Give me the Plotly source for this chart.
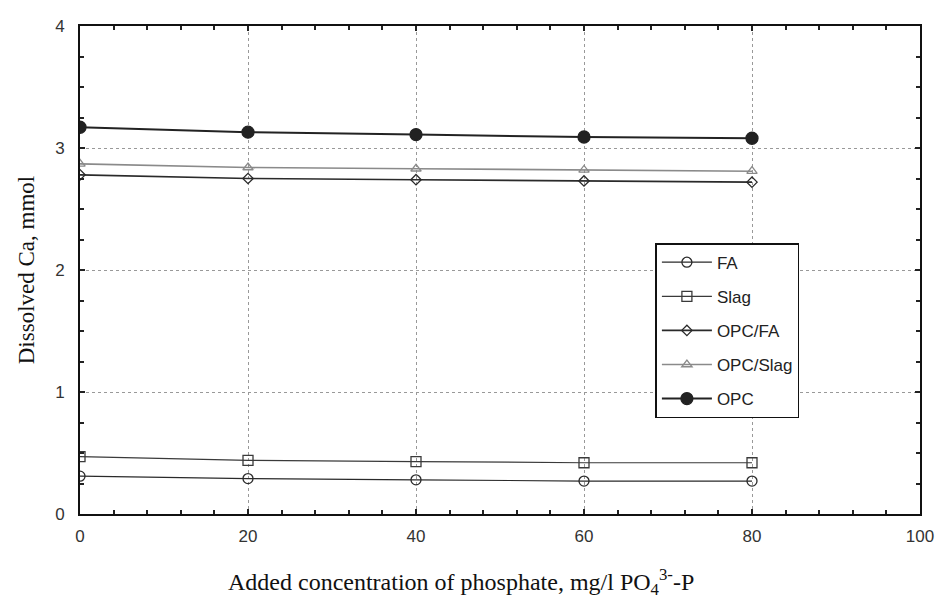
import plotly.graph_objects as go

x_vals = [0, 20, 40, 60, 80]
fa = [0.31, 0.29, 0.28, 0.27, 0.27]
slag = [0.47, 0.44, 0.43, 0.42, 0.42]
opc_fa = [2.78, 2.75, 2.74, 2.73, 2.72]
opc_slag = [2.87, 2.84, 2.83, 2.82, 2.81]
opc = [3.17, 3.13, 3.11, 3.09, 3.08]

x_ticks = [0, 20, 40, 60, 80, 100]
y_ticks = [0, 1, 2, 3, 4]

x_title = "Added concentration of phosphate, mg/l PO<sub>4</sub><sup>3-</sup>-P"
y_title = "Dissolved Ca, mmol"

fig = go.Figure()

series = [
    ("FA", fa, "circle-open", 10, "#2a2a2a", 1.2),
    ("Slag", slag, "square-open", 10, "#3a3a3a", 1.2),
    ("OPC/FA", opc_fa, "diamond-open", 8, "#2a2a2a", 1.6),
    ("OPC/Slag", opc_slag, "triangle-up-open", 9, "#8a8a8a", 1.6),
    ("OPC", opc, "circle", 12, "#222222", 2.0),
]

for name, vals, sym, size, col, w in series:
    fig.add_trace(go.Scatter(
        x=x_vals, y=vals, name=name, mode="lines+markers", legendgroup=name,
        line=dict(color=col, width=w),
        marker=dict(symbol=sym, size=size, color=col,
                    line=dict(color=col, width=1.3)),
    ))

axis_common = dict(
    showline=True, linecolor="#111", linewidth=2, mirror="allticks",
    ticks="inside", ticklen=5, tickcolor="#222", tickwidth=1.5,
    showgrid=True, gridcolor="#999999", griddash="dot", gridwidth=1,
    zeroline=False,
    tickfont=dict(family="Liberation Sans, Arial", size=17, color="#333"),
)

fig.update_xaxes(
    range=[0, 100], tickvals=x_ticks, ticktext=[str(v) for v in x_ticks],
    minor=dict(dtick=4, ticks="inside", ticklen=4, tickcolor="#222", showgrid=False),
    ticklabelstandoff=6,
    **axis_common,
)
fig.update_yaxes(
    range=[0, 4], tickvals=y_ticks, ticktext=[str(v) for v in y_ticks],
    minor=dict(dtick=0.25, ticks="inside", ticklen=4, tickcolor="#222", showgrid=False),
    ticklabelstandoff=10,
    title=dict(text=y_title,
               font=dict(family="Liberation Serif, Times New Roman", size=23, color="#111"),
               standoff=14),
    **axis_common,
)

fig.add_annotation(
    text=x_title, xref="paper", yref="paper", x=0.453, y=-0.1,
    xanchor="center", yanchor="top", showarrow=False,
    font=dict(family="Liberation Serif, Times New Roman", size=24, color="#111"),
)

fig.update_layout(
    width=946, height=606,
    margin=dict(l=80, r=18, t=26, b=92),
    paper_bgcolor="white", plot_bgcolor="white",
    showlegend=True,
    legend=dict(
        x=0.685, y=0.555, xanchor="left", yanchor="top",
        bgcolor="white", bordercolor="#111", borderwidth=1.5,
        font=dict(family="Liberation Sans, Arial", size=17, color="#222"),
        itemwidth=50, tracegroupgap=9,
    ),
)

fig.write_html("out.html")
